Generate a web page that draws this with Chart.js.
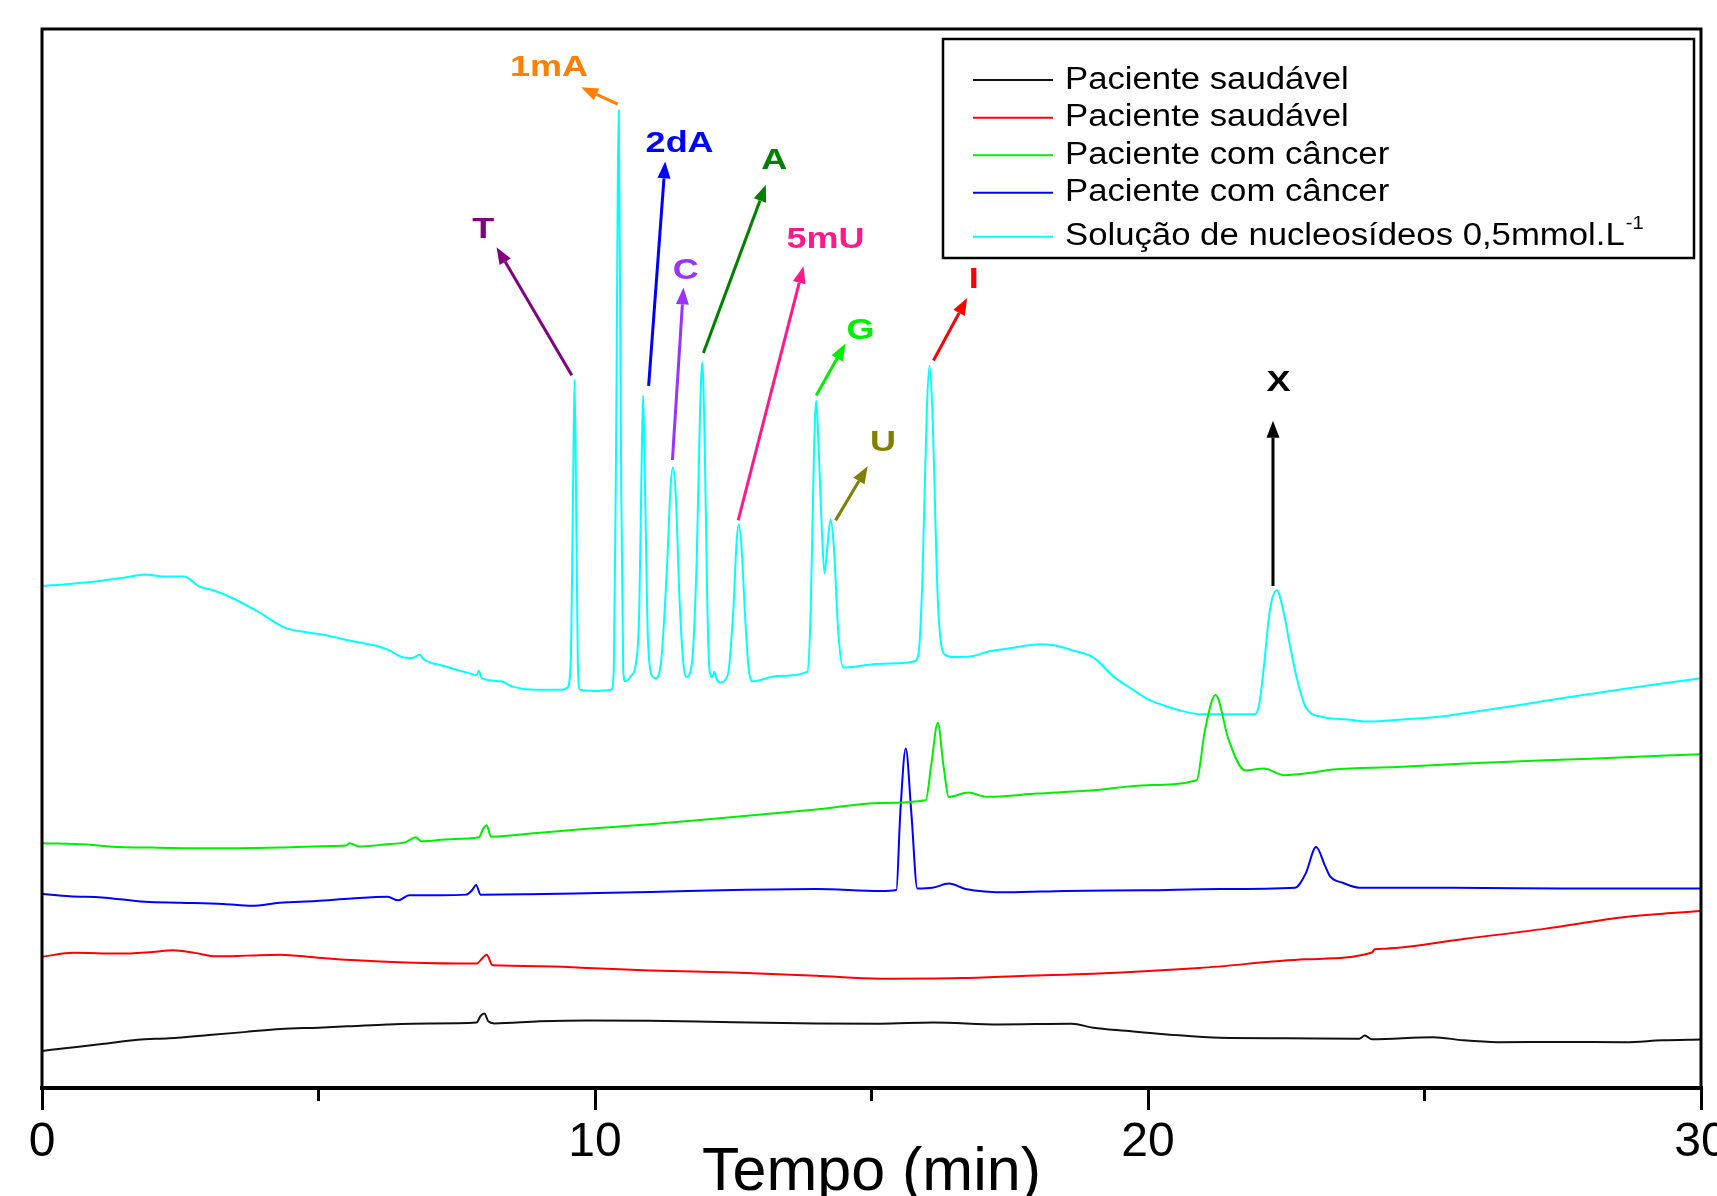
<!DOCTYPE html>
<html>
<head>
<meta charset="utf-8">
<script src="https://cdn.jsdelivr.net/npm/chart.js@4.4.1/dist/chart.umd.min.js"></script>
<style>
  html, body { margin: 0; padding: 0; background: #fff; }
</style>
</head>
<body>
<canvas id="myChart" width="1717" height="1196"></canvas>
<script>
// chromatograms, [tempo (min), sinal (u.a.)]
const saudavel1 = [
  [0, 3.5], [0.5, 3.8], [1.08, 4.15], [1.73, 4.56], [2.3, 4.7], [3.02, 5.0], [3.7, 5.3],
  [4.31, 5.57], [5.0, 5.7], [5.6, 5.84], [6.24, 6.0], [7.0, 6.1], [7.86, 6.19], [7.93, 6.8],
  [8.0, 7.04], [8.07, 6.3], [8.18, 6.1], [9.0, 6.3], [9.86, 6.38], [11, 6.35], [12.5, 6.2],
  [14, 6.1], [15.16, 6.07], [16.12, 6.19], [17.3, 6.0], [18.62, 6.07], [19.01, 5.69],
  [19.6, 5.4], [20.35, 5.06], [21.31, 4.74], [22.5, 4.7], [23.82, 4.65], [23.92, 4.95],
  [24.05, 4.6], [25.16, 4.8], [25.7, 4.5], [26.32, 4.33], [27.5, 4.35], [28.63, 4.33],
  [29.3, 4.5], [30, 4.58]
];
const saudavel2 = [
  [0, 12.4], [0.57, 12.76], [1.4, 12.69], [2.0, 12.85], [2.37, 13.0], [2.76, 12.76],
  [3.15, 12.43], [3.7, 12.5], [4.31, 12.59], [4.96, 12.32], [5.6, 12.09], [6.57, 11.86],
  [7.86, 11.75], [7.97, 12.3], [8.04, 12.59], [8.15, 11.58], [9.0, 11.5], [9.86, 11.34],
  [11, 11.1], [12.5, 10.9], [14, 10.6], [15.16, 10.32], [16.6, 10.38], [17.8, 10.6],
  [19.01, 10.79], [20.93, 11.33], [22.85, 12.15], [24.05, 12.8], [24.1, 13.1], [24.29, 13.16],
  [25.74, 14.1], [27.19, 15.05], [28.63, 16.14], [30, 16.71]
];
const cancer1 = [
  [0, 23.12], [0.82, 22.99], [1.27, 22.79], [2.0, 22.7], [2.7, 22.65], [3.5, 22.65],
  [4.31, 22.7], [5.28, 22.85], [5.5, 22.9], [5.57, 23.12], [5.73, 22.8], [6.2, 23.0],
  [6.57, 23.22], [6.76, 23.67], [6.86, 23.3], [7.4, 23.5], [7.9, 23.67], [7.97, 24.4],
  [8.04, 24.81], [8.12, 23.73], [9.0, 24.1], [9.86, 24.47], [11, 24.9], [12.5, 25.6],
  [14, 26.3], [15.16, 26.92], [15.98, 27.17], [16.08, 30.5], [16.2, 34.48], [16.3, 30.5],
  [16.4, 27.49], [16.75, 27.9], [17.08, 27.5], [18.0, 27.8], [19.01, 28.12], [20.0, 28.6],
  [20.88, 29.06], [21.03, 33.79], [21.22, 37.1], [21.46, 32.84], [21.75, 30.0], [22.09, 30.17],
  [22.47, 29.54], [23.0, 29.8], [23.34, 30.07], [24.5, 30.3], [25.74, 30.64], [28, 31.1],
  [30, 31.52]
];
const cancer2 = [
  [0, 18.33], [0.5, 18.1], [1.08, 18.0], [1.86, 17.59], [2.5, 17.5], [3.28, 17.38],
  [3.79, 17.2], [4.3, 17.5], [4.96, 17.66], [5.6, 17.9], [6.25, 18.06], [6.44, 17.72],
  [6.64, 18.2], [7.2, 18.2], [7.67, 18.26], [7.78, 18.7], [7.85, 19.18], [7.93, 18.26],
  [8.8, 18.3], [9.86, 18.39], [11, 18.5], [12.5, 18.7], [14, 18.8], [15.16, 18.6],
  [15.45, 18.7], [15.52, 25.9], [15.62, 32.06], [15.72, 26], [15.83, 18.83], [16.1, 18.9],
  [16.4, 19.3], [16.7, 18.8], [17.47, 18.48], [18.5, 18.6], [19.97, 18.67], [21.3, 18.8],
  [22.66, 18.92], [22.85, 20.24], [23.04, 22.76], [23.2, 21.0], [23.29, 20.0], [23.53, 19.36],
  [23.82, 18.92], [25.5, 18.9], [27.5, 18.85], [30, 18.83]
];
const padrao = [
  [0, 47.4], [0.5, 47.6], [1.08, 47.9], [1.5, 48.2], [1.86, 48.5], [2.2, 48.3], [2.57, 48.3],
  [2.83, 47.4], [3.1, 47.0], [3.47, 46.2], [3.9, 45.0], [4.38, 43.5], [4.7, 43.1], [5.09, 42.8],
  [5.6, 42.2], [6.0, 41.8], [6.25, 41.4], [6.51, 40.7], [6.7, 40.6], [6.83, 40.9], [6.9, 40.5],
  [7.3, 39.8], [7.7, 39.2], [7.86, 39.0], [7.9, 39.4], [7.95, 38.7], [8.3, 38.4], [8.51, 37.9],
  [8.9, 37.6], [9.41, 37.6], [9.5, 37.8],
  [9.56, 40.0], [9.6, 55], [9.63, 66.9], [9.66, 55], [9.69, 40], [9.73, 37.6],
  [10.0, 37.5], [10.29, 37.6], [10.34, 39.5],
  [10.38, 60], [10.43, 92.3], [10.47, 60], [10.51, 39.5], [10.55, 38.4],
  [10.65, 38.9], [10.74, 40.1], [10.8, 45],
  [10.84, 58], [10.87, 65.4], [10.91, 55], [10.96, 42], [11.05, 38.8], [11.1, 38.7], [11.2, 40.5],
  [11.3, 49], [11.37, 57], [11.41, 58.6], [11.46, 56], [11.53, 46], [11.6, 40], [11.65, 38.8],
  [11.75, 40],
  [11.84, 50], [11.9, 64], [11.94, 68.5], [11.98, 62], [12.03, 46], [12.07, 39.5], [12.12, 38.8],
  [12.16, 39.3], [12.2, 38.6], [12.26, 38.3], [12.4, 39.0],
  [12.5, 45], [12.56, 51.5], [12.6, 53.2], [12.65, 51], [12.72, 44], [12.78, 39.5], [12.84, 38.4],
  [13.3, 38.9], [13.84, 39.3],
  [13.9, 45], [13.96, 60], [14.0, 64.9], [14.04, 61], [14.1, 53], [14.15, 48.6], [14.2, 51],
  [14.26, 53.7], [14.32, 51], [14.4, 43], [14.49, 39.7], [15.0, 40.0], [15.5, 40.1],
  [15.78, 40.3], [15.85, 41.0],
  [15.92, 48], [16.0, 64], [16.05, 68.2], [16.1, 64], [16.2, 46], [16.33, 40.9], [16.5, 40.7],
  [16.84, 40.8], [17.1, 41.2], [17.47, 41.5], [18.05, 41.9], [18.3, 41.8], [18.62, 41.35],
  [19.01, 40.66], [19.39, 38.8], [19.7, 37.7], [19.97, 36.8], [20.3, 36.1], [20.55, 35.7],
  [20.93, 35.3], [21.5, 35.3], [21.94, 35.3],
  [22.02, 36.5], [22.1, 40], [22.2, 45], [22.33, 47.0], [22.45, 45], [22.57, 41.7], [22.7, 38.5],
  [22.85, 36.0], [23.14, 35.05], [23.6, 34.8], [24.01, 34.6], [24.6, 34.8], [25.26, 35.05],
  [26.0, 35.6], [26.7, 36.15], [27.6, 36.9], [28.63, 37.7], [29.3, 38.2], [30, 38.7]
];

const seriesNames = ['Paciente saudável', 'Paciente saudável', 'Paciente com câncer',
  'Paciente com câncer', 'Solução de nucleosídeos 0,5mmol.L'];
const seriesSup = ['', '', '', '', '-1'];
const seriesColors = ['#111111', '#ff0000', '#00ee00', '#0000ff', '#00ffff'];
const seriesData = [saudavel1, saudavel2, cancer1, cancer2, padrao];

const majorTicks = [0, 10, 20, 30];
const minorTicks = [5, 15, 25];

// peak labels: text position, arrow from -> to (data units)
const peakNotes = [
  { label: 'T', color: '#800080', at: [7.98, 81.0], from: [9.58, 67.3], to: [8.22, 79.4] },
  { label: '1mA', color: '#ff8000', at: [9.17, 96.3], from: [10.41, 92.9], to: [9.75, 94.5] },
  { label: '2dA', color: '#0000ff', at: [11.53, 89.2], from: [10.97, 66.3], to: [11.27, 87.5] },
  { label: 'C', color: '#9933ff', at: [11.64, 77.2], from: [11.4, 59.3], to: [11.6, 75.6] },
  { label: 'A', color: '#008000', at: [13.24, 87.6], from: [11.96, 69.4], to: [13.09, 85.3] },
  { label: '5mU', color: '#ff1a8c', at: [14.17, 80.1], from: [12.59, 53.6], to: [13.77, 77.6] },
  { label: 'G', color: '#00ee00', at: [14.8, 71.5], from: [14.0, 65.4], to: [14.53, 70.3] },
  { label: 'U', color: '#808000', at: [15.21, 60.9], from: [14.35, 53.6], to: [14.93, 58.7] },
  { label: 'I', color: '#ff0000', at: [16.85, 76.3], from: [16.12, 68.7], to: [16.73, 74.6] },
  { label: 'X', color: '#000000', at: [22.36, 66.6], from: [22.26, 47.4], to: [22.26, 63.0] }
];

const FONT = '"Liberation Sans", Arial, sans-serif';

function drawArrow(ctx, x1, y1, x2, y2, color) {
  const ang = Math.atan2(y2 - y1, x2 - x1), head = 17, half = 6.5;
  const bx = x2 - head * Math.cos(ang), by = y2 - head * Math.sin(ang);
  ctx.strokeStyle = color;
  ctx.fillStyle = color;
  ctx.lineWidth = 3;
  ctx.beginPath();
  ctx.moveTo(x1, y1);
  ctx.lineTo(bx, by);
  ctx.stroke();
  ctx.beginPath();
  ctx.moveTo(x2, y2);
  ctx.lineTo(bx + half * Math.sin(ang), by - half * Math.cos(ang));
  ctx.lineTo(bx - half * Math.sin(ang), by + half * Math.cos(ang));
  ctx.closePath();
  ctx.fill();
}

const decorations = {
  id: 'decorations',
  afterDraw(chart) {
    const { ctx, chartArea: a, scales: { x, y } } = chart;
    ctx.save();

    // frame (left, top, right)
    ctx.strokeStyle = '#000';
    ctx.lineWidth = 3;
    ctx.beginPath();
    ctx.moveTo(a.left, a.bottom);
    ctx.lineTo(a.left, a.top);
    ctx.lineTo(a.right, a.top);
    ctx.lineTo(a.right, a.bottom);
    ctx.stroke();

    // short minor ticks
    minorTicks.forEach(t => {
      const px = x.getPixelForValue(t);
      ctx.beginPath();
      ctx.moveTo(px, a.bottom);
      ctx.lineTo(px, a.bottom + 13);
      ctx.stroke();
    });

    // peak labels + arrows
    peakNotes.forEach(n => {
      drawArrow(ctx, x.getPixelForValue(n.from[0]), y.getPixelForValue(n.from[1]),
        x.getPixelForValue(n.to[0]), y.getPixelForValue(n.to[1]), n.color);
      ctx.save();
      ctx.translate(x.getPixelForValue(n.at[0]), y.getPixelForValue(n.at[1]));
      ctx.scale(1.2, 1);
      ctx.font = 'bold 30px ' + FONT;
      ctx.fillStyle = n.color;
      ctx.textAlign = 'center';
      ctx.textBaseline = 'middle';
      ctx.fillText(n.label, 0, 0);
      ctx.restore();
    });

    // legend box
    const bx = 943, by = 39, bw = 751, bh = 219;
    const rows = [41, 78.7, 116.3, 153.7, 197.7];
    ctx.fillStyle = '#fff';
    ctx.fillRect(bx, by, bw, bh);
    ctx.strokeStyle = '#000';
    ctx.lineWidth = 2.5;
    ctx.strokeRect(bx, by, bw, bh);
    chart.data.datasets.forEach((ds, i) => {
      const ry = by + rows[i];
      ctx.strokeStyle = ds.borderColor;
      ctx.lineWidth = 2;
      ctx.beginPath();
      ctx.moveTo(bx + 30, ry);
      ctx.lineTo(bx + 110, ry);
      ctx.stroke();
      ctx.save();
      ctx.translate(bx + 122, ry);
      ctx.scale(1.12, 1);
      ctx.font = '31px ' + FONT;
      ctx.fillStyle = '#000';
      ctx.textAlign = 'left';
      ctx.textBaseline = 'middle';
      ctx.fillText(ds.label, 0, 0);
      if (seriesSup[i]) {
        const w = ctx.measureText(ds.label).width;
        ctx.font = '18px ' + FONT;
        ctx.fillText(seriesSup[i], w + 1, -13);
      }
      ctx.restore();
    });

    ctx.restore();
  }
};

const ctx = document.getElementById('myChart');

new Chart(ctx, {
  type: 'line',
  data: {
    datasets: seriesData.map((pts, i) => ({
      label: seriesNames[i],
      data: pts.map(p => ({ x: p[0], y: p[1] })),
      borderColor: seriesColors[i],
      borderWidth: 2,
      pointRadius: 0,
      cubicInterpolationMode: 'monotone',
      fill: false
    }))
  },
  options: {
    responsive: false,
    devicePixelRatio: 1,
    animation: false,
    layout: { padding: { left: 42, right: 16, top: 29, bottom: 0 } },
    plugins: {
      legend: { display: false },
      tooltip: { enabled: false }
    },
    scales: {
      x: {
        type: 'linear',
        min: 0,
        max: 30,
        afterBuildTicks: (scale) => { scale.ticks = majorTicks.map(v => ({ value: v })); },
        ticks: {
          autoSkip: false,
          maxRotation: 0,
          padding: 4,
          color: '#000',
          font: { family: FONT, size: 48 }
        },
        grid: {
          display: true,
          drawOnChartArea: false,
          drawTicks: true,
          tickLength: 22,
          color: '#000',
          lineWidth: 3
        },
        border: { display: true, color: '#000', width: 4 },
        title: {
          display: true,
          text: 'Tempo (min)',
          color: '#000',
          font: { family: FONT, size: 61, lineHeight: 1 },
          padding: { top: 0, bottom: -8 }
        },
        afterFit: (scale) => {
          scale.height = 108;
          scale.paddingLeft = 0;
          scale.paddingRight = 0;
        }
      },
      y: {
        display: false,
        min: 0,
        max: 100
      }
    }
  },
  plugins: [decorations]
});
</script>
</body>
</html>
